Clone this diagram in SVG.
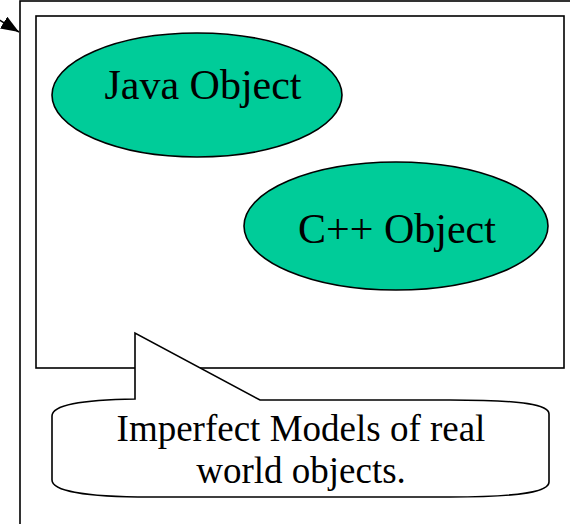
<svg xmlns="http://www.w3.org/2000/svg" width="570" height="524" viewBox="0 0 570 524">
<defs>
<style>
.frame{fill:none;stroke:#000;stroke-width:1.6}
.obj{fill:#00CC99;stroke:#000;stroke-width:1.6}
.lbl{font-family:"Liberation Serif","Times New Roman",serif;fill:#000;text-anchor:middle}
.big{font-size:42px}
.med{font-size:37px}
</style>
<marker id="ah" viewBox="0 0 18 14" refX="18" refY="7" markerWidth="18" markerHeight="14" markerUnits="userSpaceOnUse" orient="auto">
<path d="M0,0 L18,7 L0,14 Z" fill="#000"/>
</marker>
</defs>
<rect width="570" height="524" fill="#fff"/>
<g id="outer">
<rect class="frame" x="20" y="1" width="580" height="560"/>
</g>
<g id="inner">
<rect class="frame" x="36" y="16" width="528" height="352"/>
</g>
<g id="java">
<ellipse class="obj" cx="197" cy="95" rx="145" ry="62"/>
<text class="lbl big" x="203" y="99">Java Object</text>
</g>
<g id="cpp">
<ellipse class="obj" cx="396" cy="226" rx="152" ry="64"/>
<text class="lbl big" x="397" y="243">C++ Object</text>
</g>
<g id="callout">
<path fill="#fff" stroke="#000" stroke-width="1.6" stroke-linejoin="miter" d="M135,333 L135,399 C80,400 52,405 52,416 L52,480 C52,490 80,497 150,497 L450,497 C525,497 549,491 549,482 L549,414 C549,405 525,400 450,400 L260,400 Z"/>
<text class="lbl med" x="301" y="441">Imperfect Models of real</text>
<text class="lbl med" x="301" y="483">world objects.</text>
</g>
<g id="connectors">
<line x1="-4" y1="18" x2="19" y2="32" stroke="#000" stroke-width="1.6" marker-end="url(#ah)"/>
</g>
</svg>
